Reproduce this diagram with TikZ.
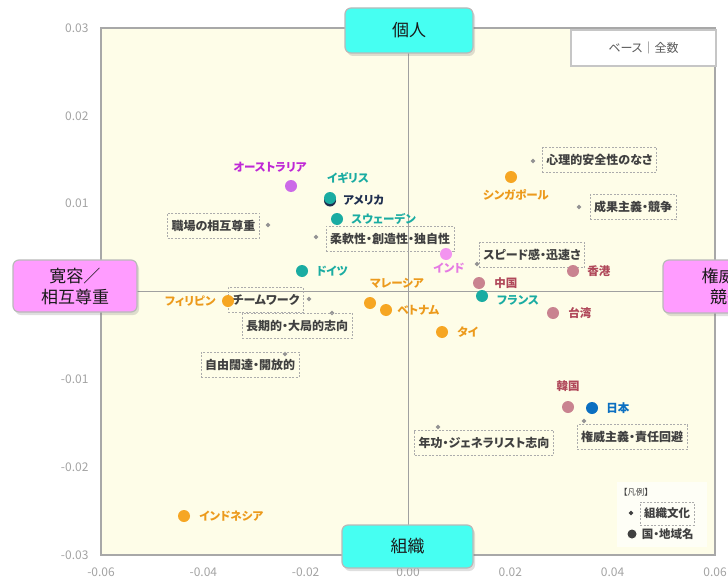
\documentclass[tikz,border=0pt]{standalone}
\usepackage{fontspec}
\setmainfont[RawFeature=+palt]{Noto Sans CJK JP}
\usepackage{xcolor}
\usepackage{tikz}
\usetikzlibrary{calc}
\usetikzlibrary{positioning,shapes.geometric,shadows}
\definecolor{plotbg}{HTML}{FEFDE8}
\definecolor{framegray}{HTML}{A8A8A8}
\definecolor{axisgray}{HTML}{A0A0A0}
\definecolor{ticktext}{HTML}{A3A3A3}
\definecolor{boxcyan}{HTML}{46FFF2}
\definecolor{boxpink}{HTML}{FF9CFF}
\definecolor{cultgray}{HTML}{404040}
\definecolor{cteal}{HTML}{1AACA2}
\definecolor{cnavy}{HTML}{1F2F4F}
\definecolor{cpurple}{HTML}{CC6AE8}
\definecolor{cpurplet}{HTML}{BF28D6}
\definecolor{cpink}{HTML}{F394F0}
\definecolor{cpinkt}{HTML}{E57AE3}
\definecolor{corange}{HTML}{F6A623}
\definecolor{coranget}{HTML}{EC9A1C}
\definecolor{crose}{HTML}{C98390}
\definecolor{croset}{HTML}{B0485A}
\definecolor{cblue}{HTML}{0B6FC1}
\tikzset{
    axis box/.style={draw=gray!55,line width=1.2pt,rounded corners=6pt,
        minimum width=128pt,minimum height=45pt,align=center,text=black!90,
        font=\fontsize{17}{21}\selectfont,
        drop shadow={shadow xshift=2pt,shadow yshift=-3pt,opacity=0.25}},
    ctry/.style={circle,inner sep=0pt,minimum size=12pt,fill=#1},
    ctry lbl/.style={text=#1,inner sep=1pt,font=\bfseries\fontsize{11.5}{13}\selectfont},
    culture/.style={draw=gray!65,dash pattern=on 2pt off 1.5pt,inner xsep=4pt,
        minimum height=25pt,text=cultgray,font=\bfseries\fontsize{12}{14}\selectfont},
    cult mark/.style={diamond,fill=gray!85,inner sep=0pt,minimum size=5pt},
    tick lbl/.style={text=ticktext,font=\fontsize{12}{14}\selectfont}
}

\begin{document}
\begin{tikzpicture}[x=1pt,y=-1pt]
    \useasboundingbox (0,0) rectangle (728,578);
    % plot area and axes
    \draw[fill=plotbg,draw=framegray,line width=1.4pt] (101,28) rectangle (715,555);
    \draw[axisgray,line width=0.8pt] (408,28) -- (408,555) (101,291.5) -- (715,291.5);
    \foreach \v in {0.03,0.02,0.01,-0.01,-0.02,-0.03}
     \path (92,{291.5-8783*\v}) node[tick lbl,anchor=east]{\v};
    \foreach \v in {-0.06,-0.04,-0.02,0.00,0.02,0.04,0.06}
     \path ({408+5117*\v},572) node[tick lbl]{\v};
    %
    % organisational culture
    \node[cult mark] (respect) at (268,225) {};
    \node[culture] (respect box) at (213.5,225.5) {職場の相互尊重};
    \node[cult mark] (flex) at (316,237) {};
    \node[culture] (flex box) at (390,238.5) {柔軟性・創造性・独自性};
    \node[cult mark] (team) at (309,299) {};
    \node[culture] (team box) at (266,300) {チームワーク};
    \node[cult mark] (longterm) at (332,313) {};
    \node[culture] (longterm box) at (297,325.5) {長期的・大局的志向};
    \node[cult mark] (open) at (285,354) {};
    \node[culture] (open box) at (250,364.5) {自由闊達・開放的};
    \node[cult mark] (unsafe) at (533,161) {};
    \node[culture] (unsafe box) at (599.5,160) {心理的安全性のなさ};
    \node[cult mark] (merit) at (579,207) {};
    \node[culture] (merit box) at (633,207) {成果主義・競争};
    \node[cult mark] (speed) at (477,264) {};
    \node[culture] (speed box) at (532,255) {スピード感・迅速さ};
    \node[cult mark] (senior) at (438,427) {};
    \node[culture] (senior box) at (484,443) {年功・ジェネラリスト志向};
    \node[cult mark] (author) at (584,421) {};
    \node[culture] (author box) at (632,437) {権威主義・責任回避};
    %
    % countries and regions
    \node[ctry=cpurple] (au) at (291,186) {};
    \path (270,167) node[ctry lbl=cpurplet]{オーストラリア};
    \node[ctry=cnavy] (us) at (330,200.5) {};
    \node[ctry=cteal] (uk) at (330,198) {};
    \path (348,178) node[ctry lbl=cteal]{イギリス};
    \node[ctry lbl=cnavy,right=6pt of us] {アメリカ};
    \node[ctry=cteal] (se) at (337,219) {};
    \node[ctry lbl=cteal,right=7pt of se] {スウェーデン};
    \node[ctry=cteal] (de) at (302,271) {};
    \node[ctry lbl=cteal,right=7pt of de] {ドイツ};
    \node[ctry=corange] (ph) at (228,301) {};
    \node[ctry lbl=coranget,left=5pt of ph] {フィリピン};
    \node[ctry=corange] (my) at (370,303) {};
    \path (397,283) node[ctry lbl=coranget]{マレーシア};
    \node[ctry=corange] (vn) at (386,310) {};
    \node[ctry lbl=coranget,right=4pt of vn] {ベトナム};
    \node[ctry=corange] (th) at (442,332) {};
    \node[ctry lbl=coranget,right=8pt of th] {タイ};
    \node[ctry=cpink] (in) at (446,254) {};
    \path (449,268) node[ctry lbl=cpinkt]{インド};
    \node[ctry=corange] (sg) at (511,177) {};
    \path (516,195) node[ctry lbl=coranget]{シンガポール};
    \node[ctry=crose] (hk) at (573,271) {};
    \node[ctry lbl=croset,right=7pt of hk] {香港};
    \node[ctry=crose] (cn) at (479,283) {};
    \node[ctry lbl=croset,right=8pt of cn] {中国};
    \node[ctry=cteal] (fr) at (482,296) {};
    \path (496,300) node[ctry lbl=cteal,anchor=west]{フランス};
    \node[ctry=crose] (tw) at (553,313) {};
    \node[ctry lbl=croset,right=8pt of tw] {台湾};
    \node[ctry=crose] (kr) at (568,407) {};
    \node[ctry lbl=croset,above=8pt of kr] {韓国};
    \node[ctry=cblue] (jp) at (592,408) {};
    \node[ctry lbl=cblue,right=7pt of jp] {日本};
    \node[ctry=corange] (id) at (184,516) {};
    \node[ctry lbl=coranget,right=8pt of id] {インドネシア};
    %
    % legend and base
    \fill[white!60!plotbg] (617,482) rectangle (707,547);
    \path (623,492) node[anchor=west,text=cultgray,inner sep=0pt,font=\fontsize{8.5}{9}\selectfont]{【凡例】};
    \node[cult mark,fill=cultgray] (leg cult) at (631,513) {};
    \node[culture,minimum height=23pt,font=\bfseries\fontsize{11.5}{13}\selectfont] (leg cult box) at (667,513.5) {組織文化};
    \node[ctry=cultgray,minimum size=9pt] (leg ctry) at (632,534) {};
    \node[ctry lbl=cultgray,right=4pt of leg ctry,font=\bfseries\fontsize{11.5}{13}\selectfont] {国・地域名};
    \node[draw=gray!45,line width=1.5pt,fill=white,minimum width=145pt,minimum height=36pt,
     text=black!65,font=\fontsize{12}{14}\selectfont] (base) at (643.5,48) {ベース｜全数};
    %
    % axis titles
    \node[axis box,fill=boxcyan] (indiv) at (409,30.5) {個人};
    \node[axis box,fill=boxcyan,minimum height=43pt,minimum width=131pt] (org) at (407.5,546.5) {組織};
    \node[axis box,fill=boxpink,minimum height=52pt,minimum width=124pt] (toler) at (75,286) {寛容／\\相互尊重};
    \node[axis box,fill=boxpink,minimum height=53pt] (power) at (727,286.5) {権威／\\競争};
\end{tikzpicture}
\end{document}
